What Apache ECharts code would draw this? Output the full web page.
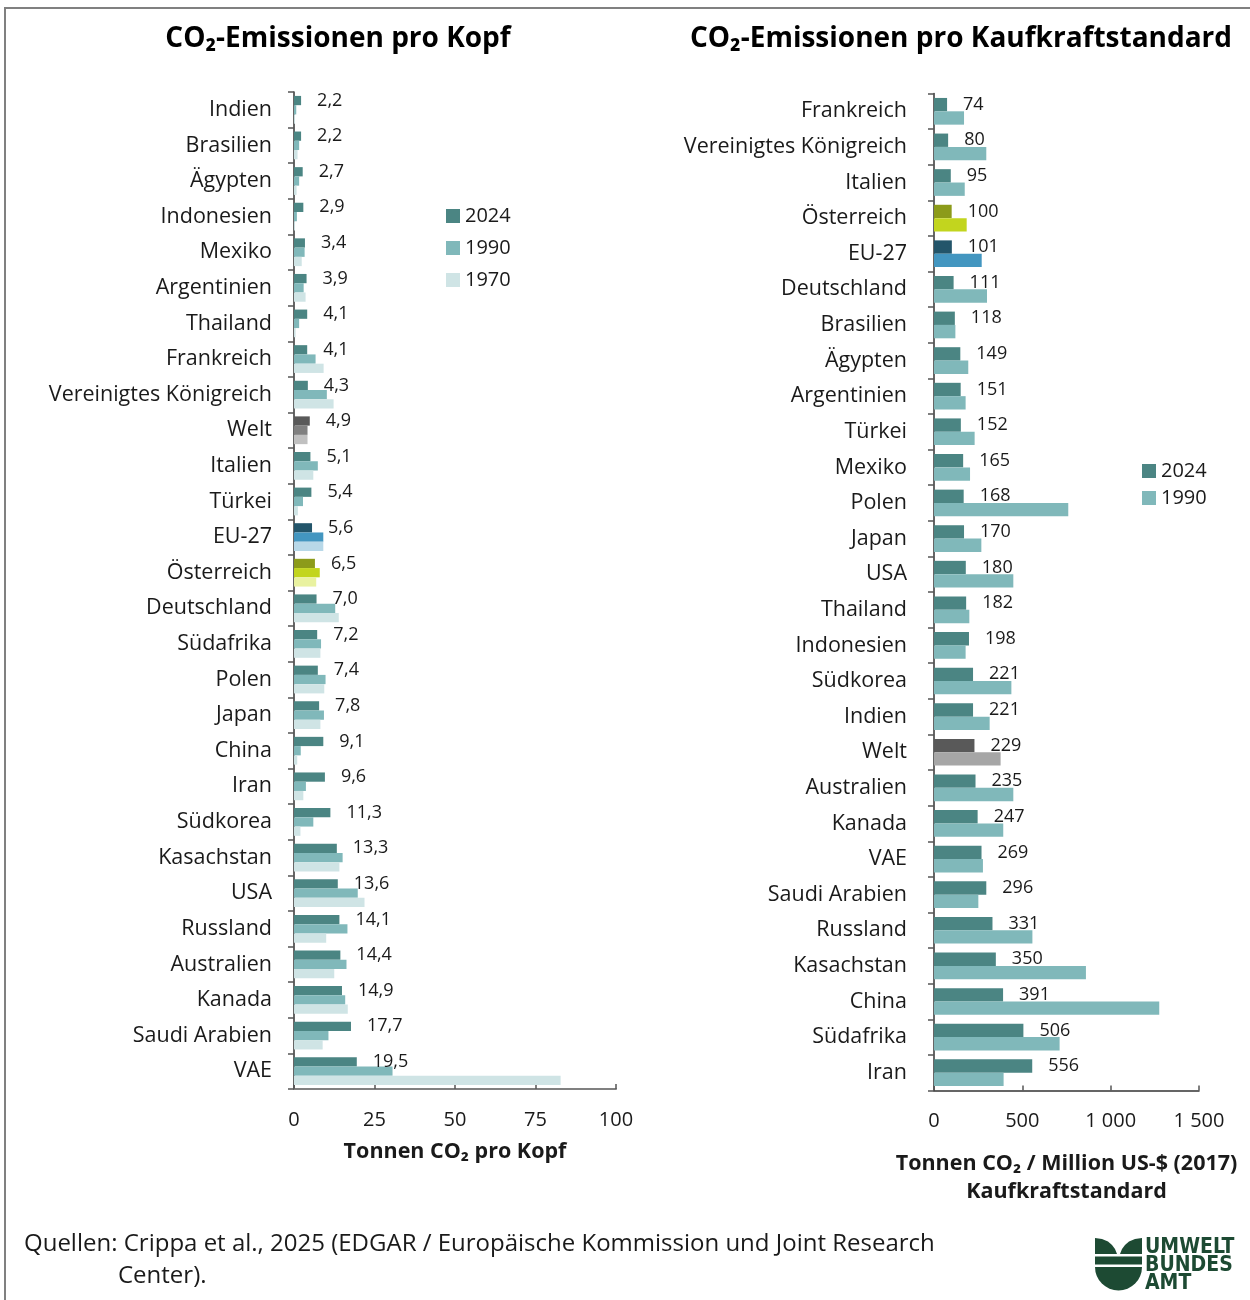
<!DOCTYPE html>
<html>
<head>
<meta charset="utf-8">
<script src="https://cdn.jsdelivr.net/npm/echarts@6/dist/echarts.min.js"></script>
<style>
html,body{margin:0;padding:0;background:#fff;}
#chart{width:1250px;height:1300px;}
</style>
</head>
<body>
<div id="chart"></div>
<script>
// ---- Data ----
const leftCategories = ['Indien','Brasilien','Ägypten','Indonesien','Mexiko','Argentinien','Thailand','Frankreich','Vereinigtes Königreich','Welt','Italien','Türkei','EU-27','Österreich','Deutschland','Südafrika','Polen','Japan','China','Iran','Südkorea','Kasachstan','USA','Russland','Australien','Kanada','Saudi Arabien','VAE'];
const left2024 = [2.2,2.2,2.7,2.9,3.4,3.9,4.1,4.1,4.3,4.9,5.1,5.4,5.6,6.5,7.0,7.2,7.4,7.8,9.1,9.6,11.3,13.3,13.6,14.1,14.4,14.9,17.7,19.5];
const left1990 = [0.7,1.6,1.6,0.9,3.3,3.0,1.6,6.7,10.2,4.2,7.4,2.8,9.1,8.0,12.8,8.4,9.8,9.3,2.1,3.7,6.0,15.1,19.8,16.6,16.3,15.9,10.7,30.6];
const left1970 = [0.3,1.1,0.8,0.3,2.4,3.6,0.5,9.2,12.3,4.2,6.0,1.2,9.1,6.9,13.9,8.2,9.4,8.2,1.0,2.9,2.0,14.1,21.9,10.0,12.5,16.7,8.9,82.8];

const rightCategories = ['Frankreich','Vereinigtes Königreich','Italien','Österreich','EU-27','Deutschland','Brasilien','Ägypten','Argentinien','Türkei','Mexiko','Polen','Japan','USA','Thailand','Indonesien','Südkorea','Indien','Welt','Australien','Kanada','VAE','Saudi Arabien','Russland','Kasachstan','China','Südafrika','Iran'];
const right2024 = [74,80,95,100,101,111,118,149,151,152,165,168,170,180,182,198,221,221,229,235,247,269,296,331,350,391,506,556];
const right1990 = [170,296,174,185,270,300,121,194,179,230,204,760,268,449,200,179,438,315,377,449,392,277,251,557,860,1275,711,394];

const leftTicks = [0,25,50,75,100];
const rightTicks = [0,500,1000,1500];

// ---- Styles ----
const FONT = '"Open Sans", "Noto Sans", sans-serif';
const baseColors = {'2024':'#4b8583','1990':'#80b8ba','1970':'#cfe4e5'};
const special = {
  'Welt':      {'2024':'#595959','1990':'#808080','1970':'#c0c0c0'},
  'EU-27':     {'2024':'#23556a','1990':'#4396c0','1970':'#b8d8e8'},
  'Österreich':{'2024':'#8c9b1a','1990':'#c2d51e','1970':'#e9f2a0'}
};
const specialRight = {
  'Welt':      {'2024':'#595959','1990':'#a6a6a6'},
  'EU-27':     {'2024':'#23556a','1990':'#4396c0'},
  'Österreich':{'2024':'#8c9b1a','1990':'#c2d51e'}
};
function items(cats, vals, year, sp){
  return vals.map((v,i)=>{
    const s = sp[cats[i]];
    return s ? {value:v, itemStyle:{color:s[year]}} : v;
  });
}
const deFmt1 = v => v.toFixed(1).replace('.', ',');
const deInt = v => String(Math.round(v)).replace(/\B(?=(\d{3})+(?!\d))/g, ' ');

const chart = echarts.init(document.getElementById('chart'));

const yCommon = {
  type:'category', inverse:true,
  axisLine:{show:true, lineStyle:{color:'#333', width:1.5}},
  axisTick:{show:true, length:6, lineStyle:{color:'#555', width:1.5}},
  axisLabel:{fontFamily:FONT, fontSize:21.5, color:'#1a1a1a'}
};
const xCommon = {
  type:'value', min:0,
  splitLine:{show:false},
  axisTick:{show:true, inside:true, length:5, lineStyle:{color:'#555', width:1.5}},
  axisLabel:{fontFamily:FONT, fontSize:20, color:'#1a1a1a', margin:21},
  nameLocation:'middle',
  nameTextStyle:{fontFamily:FONT, fontSize:21.5, fontWeight:'bold', color:'#1a1a1a', lineHeight:28}
};

const valueLabel = (fmt)=>({show:true, position:'right', distance:16, fontFamily:FONT, fontSize:18, color:'#1a1a1a', formatter:p=>fmt(p.value)});

const LOGO = '#1d4a33';
const logoFont = '"Liberation Sans Narrow", "DejaVu Sans Condensed", sans-serif';

const option = {
  backgroundColor:'#fff',
  animation:false,
  grid:[
    {left:294, top:92, width:322, height:997},
    {left:934, top:93.5, width:265, height:997}
  ],
  legend:[
    {orient:'vertical', left:441, top:201, icon:'rect', itemWidth:14, itemHeight:14, itemGap:12,
     data:['2024','1990','1970'], textStyle:{fontFamily:FONT, fontSize:20, color:'#1a1a1a'}, selectedMode:false},
    {orient:'vertical', left:1137, top:456, icon:'rect', itemWidth:14, itemHeight:14, itemGap:7,
     data:['2024','1990'], textStyle:{fontFamily:FONT, fontSize:20, color:'#1a1a1a'}, selectedMode:false}
  ],
  xAxis:[
    Object.assign({}, xCommon, {gridIndex:0, max:100, interval:25,
      axisLine:{show:true, lineStyle:{color:'#808080', width:2}},
      name:'Tonnen CO₂ pro Kopf', nameGap:49}),
    Object.assign({}, xCommon, {gridIndex:1, max:1500, interval:500,
      axisLine:{show:true, lineStyle:{color:'#333', width:1.5}},
      axisLabel:Object.assign({}, xCommon.axisLabel, {formatter:v=>deInt(v)}),
      name:'Tonnen CO₂ / Million US-$ (2017)\nKaufkraftstandard', nameGap:59})
  ],
  yAxis:[
    Object.assign({}, yCommon, {gridIndex:0, data:leftCategories, axisLabel:Object.assign({}, yCommon.axisLabel, {margin:22})}),
    Object.assign({}, yCommon, {gridIndex:1, data:rightCategories, axisLabel:Object.assign({}, yCommon.axisLabel, {margin:27})})
  ],
  series:[
    {name:'2024', type:'bar', xAxisIndex:0, yAxisIndex:0, barGap:'0%', barCategoryGap:'22%',
     itemStyle:{color:baseColors['2024']}, data:items(leftCategories,left2024,'2024',special), label:valueLabel(deFmt1)},
    {name:'1990', type:'bar', xAxisIndex:0, yAxisIndex:0, barGap:'0%', barCategoryGap:'22%',
     itemStyle:{color:baseColors['1990']}, data:items(leftCategories,left1990,'1990',special)},
    {name:'1970', type:'bar', xAxisIndex:0, yAxisIndex:0, barGap:'0%', barCategoryGap:'22%',
     itemStyle:{color:baseColors['1970']}, data:items(leftCategories,left1970,'1970',special)},
    {name:'2024', type:'bar', xAxisIndex:1, yAxisIndex:1, barGap:'0%', barCategoryGap:'25%',
     itemStyle:{color:baseColors['2024']}, data:items(rightCategories,right2024,'2024',specialRight), label:valueLabel(deInt)},
    {name:'1990', type:'bar', xAxisIndex:1, yAxisIndex:1, barGap:'0%', barCategoryGap:'25%',
     itemStyle:{color:baseColors['1990']}, data:items(rightCategories,right1990,'1990',specialRight)}
  ],
  graphic:[
    {type:'rect', shape:{x:5, y:8, width:1260, height:1320}, style:{fill:'none', stroke:'#808080', lineWidth:2}, silent:true},
    {type:'text', x:338, y:39, style:{text:'CO₂-Emissionen pro Kopf', fontFamily:FONT, fontSize:28, fontWeight:'bold', fill:'#000', align:'center', verticalAlign:'middle'}},
    {type:'text', x:961, y:39, style:{text:'CO₂-Emissionen pro Kaufkraftstandard', fontFamily:FONT, fontSize:28, fontWeight:'bold', fill:'#000', align:'center', verticalAlign:'middle'}},
    {type:'text', x:24, y:1244, style:{text:'Quellen: Crippa et al., 2025 (EDGAR / Europäische Kommission und Joint Research', fontFamily:FONT, fontSize:24, fill:'#1a1a1a', verticalAlign:'middle'}},
    {type:'text', x:118, y:1276, style:{text:'Center).', fontFamily:FONT, fontSize:24, fill:'#1a1a1a', verticalAlign:'middle'}},
    // logo
    {type:'polygon', shape:{points:[[1095,1238],[1102,1239],[1108,1241.5],[1112,1245],[1115,1249],[1117,1254],[1095,1254]]}, style:{fill:LOGO}},
    {type:'polygon', shape:{points:[[1142,1238],[1135,1239],[1129,1241.5],[1125,1245],[1122,1249],[1120,1254],[1142,1254]]}, style:{fill:LOGO}},
    {type:'rect', shape:{x:1095, y:1256.5, width:47, height:8}, style:{fill:LOGO}},
    {type:'sector', shape:{cx:1118.5, cy:1267, r:23.5, startAngle:0, endAngle:Math.PI, clockwise:true}, style:{fill:LOGO}},
    {type:'text', x:1145, y:1248, style:{text:'UMWELT', fontFamily:logoFont, fontSize:21, fontWeight:'bold', fill:LOGO, verticalAlign:'middle'}},
    {type:'text', x:1145, y:1266, style:{text:'BUNDES', fontFamily:logoFont, fontSize:21, fontWeight:'bold', fill:LOGO, verticalAlign:'middle'}},
    {type:'text', x:1145, y:1284, style:{text:'AMT', fontFamily:logoFont, fontSize:21, fontWeight:'bold', fill:LOGO, verticalAlign:'middle'}}
  ]
};
chart.setOption(option);
</script>
</body>
</html>
